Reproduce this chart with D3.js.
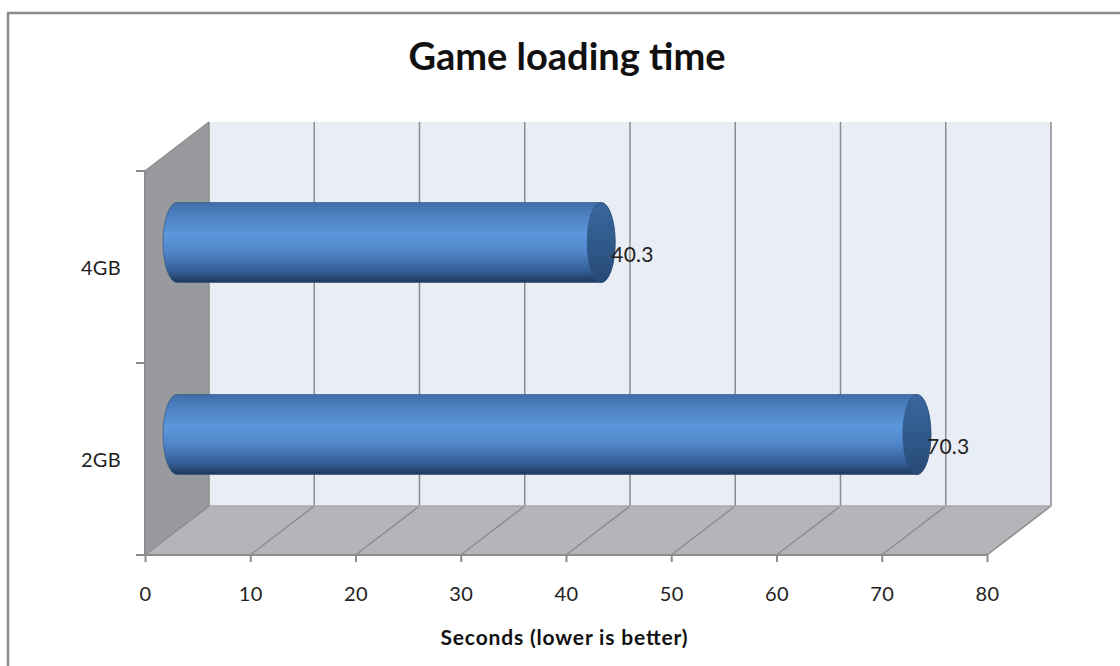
<!DOCTYPE html>
<html>
<head>
<meta charset="utf-8">
<script src="https://cdn.jsdelivr.net/npm/d3@7/dist/d3.min.js"></script>
<style>
  html, body { margin: 0; padding: 0; background: #fff; }
  svg { display: block; font-family: Lato, "Open Sans", sans-serif; }
</style>
</head>
<body>
<svg id="chart" width="1120" height="666"></svg>
<script>
// Chart data
const categories = ["4GB", "2GB"];
const loadSeconds = [40.3, 70.3];
const tickValues = [0, 10, 20, 30, 40, 50, 60, 70, 80];
const chartTitle = "Game loading time";
const axisTitle = "Seconds (lower is better)";

const svg = d3.select("#chart");

// Front plane of the 3D plot box and its depth offset
const front = { left: 145, right: 987, top: 171, bottom: 555 };
const depth = { dx: 64, dy: -49 };

const x = d3.scaleLinear().domain([0, 80]).range([front.left, front.right]);
const y = d3.scaleBand().domain(categories).range([front.top, front.bottom]);

// Outer frame
svg.append("path")
  .attr("d", "M8,680 L8,13 L1130,13")
  .attr("fill", "none").attr("stroke", "#8a8a8a").attr("stroke-width", 2.5);

// Title
svg.append("text")
  .attr("x", 567).attr("y", 60)
  .attr("text-anchor", "middle").attr("dominant-baseline", "middle")
  .attr("font-size", 38).attr("font-weight", "bold").attr("fill", "#111")
  .text(chartTitle);

const defs = svg.append("defs");

// Back wall
const bx0 = front.left + depth.dx, bx1 = front.right + depth.dx;
const by0 = front.top + depth.dy, by1 = front.bottom + depth.dy;
svg.append("rect")
  .attr("x", bx0).attr("y", by0).attr("width", bx1 - bx0).attr("height", by1 - by0)
  .attr("fill", "#e9edf5");

// Left side wall
svg.append("polygon")
  .attr("points", [[front.left, front.top], [bx0, by0], [bx0, by1], [front.left, front.bottom]].join(" "))
  .attr("fill", "#989a9e");

// Floor
svg.append("polygon")
  .attr("points", [[front.left, front.bottom], [front.right, front.bottom], [bx1, by1], [bx0, by1]].join(" "))
  .attr("fill", "#b3b5b9");

// Gridlines on the back wall and floor
const grid = svg.append("g").attr("stroke", "#8d8d8d").attr("stroke-width", 1.5).attr("fill", "none");
tickValues.forEach(v => {
  const fx = x(v), bx = x(v) + depth.dx;
  grid.append("path")
    .attr("d", `M${bx},${by0} L${bx},${by1} L${fx},${front.bottom}`);
});
grid.append("line").attr("x1", bx0).attr("y1", by1).attr("x2", bx1).attr("y2", by1).attr("stroke", "#a8aaae");
grid.append("line").attr("x1", front.left).attr("y1", front.top).attr("x2", bx0).attr("y2", by0);

// Category axis
const yAxisG = svg.append("g").attr("stroke", "#8d8d8d").attr("stroke-width", 2);
yAxisG.append("line").attr("x1", front.left).attr("y1", front.top).attr("x2", front.left).attr("y2", front.bottom);
[front.top, front.top + y.step(), front.bottom].forEach(t => {
  yAxisG.append("line").attr("x1", front.left - 9).attr("y1", t).attr("x2", front.left).attr("y2", t);
});
svg.selectAll(".cat")
  .data(categories).enter().append("text")
  .attr("x", 121).attr("y", d => y(d) + y.bandwidth() / 2 + 3)
  .attr("text-anchor", "end").attr("dominant-baseline", "middle")
  .attr("font-size", 20).attr("letter-spacing", 0.3).attr("fill", "#222")
  .text(d => d);

// Value axis
const xAxis = d3.axisBottom(x).tickValues(tickValues).tickSize(7).tickPadding(25).tickFormat(d3.format("d"));
const xAxisG = svg.append("g").attr("transform", `translate(0,${front.bottom})`).call(xAxis);
xAxisG.select(".domain").attr("stroke", "#8d8d8d").attr("stroke-width", 2)
  .attr("d", `M${front.left - 8},0H${front.right}`);
xAxisG.selectAll(".tick line").attr("stroke", "#8d8d8d").attr("stroke-width", 2);
xAxisG.selectAll(".tick text").attr("font-size", 20).attr("letter-spacing", 0.5).attr("fill", "#222")
  .attr("font-family", "Lato, 'Open Sans', sans-serif");

svg.append("text")
  .attr("x", 564).attr("y", 640)
  .attr("text-anchor", "middle").attr("dominant-baseline", "middle")
  .attr("font-size", 21).attr("font-weight", "bold").attr("fill", "#111")
  .attr("textLength", 247).attr("lengthAdjust", "spacing")
  .text(axisTitle);

// Cylinder bars, placed at mid depth
const bodyGrad = defs.append("linearGradient").attr("id", "bodyGrad")
  .attr("x1", 0).attr("y1", 0).attr("x2", 0).attr("y2", 1);
[[0, "#3f6ca6"], [0.12, "#4a7dbd"], [0.4, "#5c97db"], [0.62, "#4f86c9"], [0.85, "#355f98"], [1, "#1d3859"]]
  .forEach(([o, c]) => bodyGrad.append("stop").attr("offset", o).attr("stop-color", c));
const capGrad = defs.append("linearGradient").attr("id", "capGrad")
  .attr("x1", 0).attr("y1", 0).attr("x2", 0).attr("y2", 1);
[[0, "#3a679e"], [0.5, "#30598b"], [1, "#274a75"]]
  .forEach(([o, c]) => capGrad.append("stop").attr("offset", o).attr("stop-color", c));

const midDx = depth.dx / 2, midDy = depth.dy / 2;
const barH = 80, rx = 14, ry = barH / 2;

const bars = svg.selectAll(".bar")
  .data(categories.map((c, i) => ({ c, v: loadSeconds[i] })))
  .enter().append("g").attr("class", "bar");

bars.each(function (d) {
  const g = d3.select(this);
  const cy = y(d.c) + y.bandwidth() / 2 + midDy;
  const x0 = x(0) + midDx, x1 = x(d.v) + midDx;
  const top = cy - ry, bot = cy + ry;
  g.append("path")
    .attr("d", `M${x0},${top} L${x1},${top} A${rx},${ry} 0 0 1 ${x1},${bot} L${x0},${bot} A${rx},${ry} 0 0 1 ${x0},${top} Z`)
    .attr("fill", "url(#bodyGrad)")
    .attr("stroke", "#2c4f7e").attr("stroke-width", 0.6);
  g.append("ellipse")
    .attr("cx", x1).attr("cy", cy).attr("rx", rx).attr("ry", ry)
    .attr("fill", "url(#capGrad)").attr("stroke", "#2a4c78").attr("stroke-width", 0.6);
  g.append("text")
    .attr("x", x1 + 10).attr("y", cy + 14)
    .attr("dominant-baseline", "middle")
    .attr("font-size", 21).attr("letter-spacing", 0.3).attr("fill", "#222")
    .text(d3.format(".1f")(d.v));
});
</script>
</body>
</html>
